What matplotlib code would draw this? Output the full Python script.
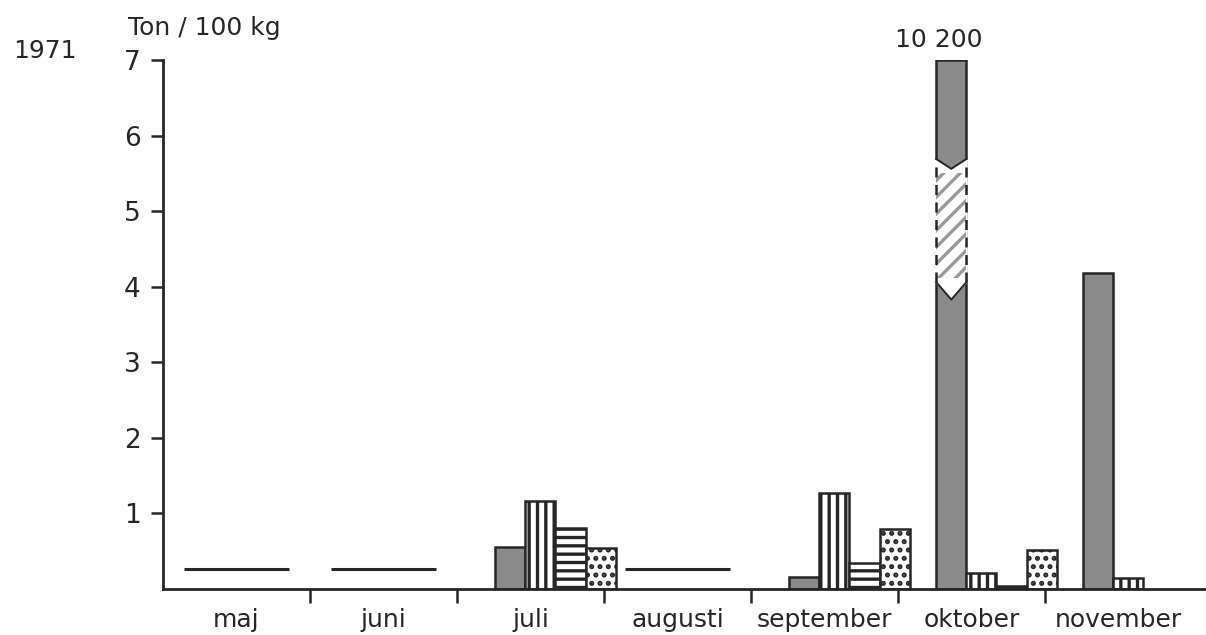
import numpy as np
import matplotlib
matplotlib.use("Agg")
import matplotlib.pyplot as plt
from matplotlib.patches import Polygon

# ---------------- data ----------------
months = ["maj", "juni", "juli", "augusti", "september", "oktober", "november"]
year_label = "1971"
unit_label = "Ton / 100 kg"
series_a = [np.nan, np.nan, 0.55, np.nan, 0.16, 102.0, 4.18]   # grey stipple
series_b = [np.nan, np.nan, 1.17, np.nan, 1.27, 0.21, 0.15]    # vertical stripes
series_c = [np.nan, np.nan, 0.81, np.nan, 0.35, 0.04, np.nan]  # horizontal stripes
series_d = [np.nan, np.nan, 0.54, np.nan, 0.79, 0.52, np.nan]  # dots
no_data_level = [0.27, 0.27, np.nan, 0.27, np.nan, np.nan, np.nan]
off_scale_label = "10 200"
yticks = [1, 2, 3, 4, 5, 6, 7]

# ---------------- style ----------------
plt.rcParams["font.family"] = ["DejaVu Sans"]
plt.rcParams["hatch.linewidth"] = 2.4
INK = "#262626"
W, H = 1206, 635
fig = plt.figure(figsize=(W / 100, H / 100), dpi=100)
ax = fig.add_axes([163 / W, 46 / H, (W - 163) / W, 529 / H])
month_px = 147.0
ymax = 7
ax.set_xlim(0, (W - 163) / month_px)
ax.set_ylim(0, ymax)

for s in ["top", "right"]:
    ax.spines[s].set_visible(False)
for s in ["left", "bottom"]:
    ax.spines[s].set_linewidth(2.0)
    ax.spines[s].set_color(INK)

ax.set_yticks(yticks)
ax.set_yticklabels([str(t) for t in yticks])
ax.tick_params(axis="y", length=9, width=1.8, pad=7, labelsize=19, colors=INK)

n = len(months)
ax.set_xticks(np.arange(1, n))
ax.set_xticklabels([])
ax.set_xticks(np.arange(n) + 0.5, minor=True)
ax.set_xticklabels(months, minor=True)
ax.tick_params(axis="x", which="major", length=10, width=1.8, colors=INK)
ax.tick_params(axis="x", which="minor", length=0, pad=14, labelsize=18, colors=INK)

off, bw = 0.26, 0.205
idx = np.arange(n)
styles = [
    dict(facecolor="#8a8a8a", hatch=None),
    dict(facecolor="white", hatch="||"),
    dict(facecolor="white", hatch="--"),
    dict(facecolor="white", hatch=".."),
]
all_series = [series_a, series_b, series_c, series_d]
for j, (vals, st) in enumerate(zip(all_series, styles)):
    v = np.minimum(np.asarray(vals, dtype=float), ymax)
    ax.bar(idx + off + j * bw, v, width=bw, align="edge",
           facecolor=st["facecolor"], hatch=st["hatch"],
           edgecolor=INK, linewidth=1.8, zorder=2)

# "no catch" dashes
for i, lvl in enumerate(no_data_level):
    if not np.isnan(lvl):
        ax.hlines(lvl, i + 0.14, i + 0.86, color=INK, linewidth=2.2, zorder=2)

# scale break on the off-scale bar
ib = int(np.nanargmax(series_a))
L = ib + off
R = L + bw
C = (L + R) / 2
hi_edge, hi_tip, lo_edge, lo_tip = 5.69, 5.56, 4.06, 3.83
gap = Polygon([(L - 0.01, hi_edge), (C, hi_tip), (R + 0.01, hi_edge),
               (R + 0.01, lo_edge), (C, lo_tip), (L - 0.01, lo_edge)],
              closed=True, facecolor="white", edgecolor="none", zorder=3)
ax.add_patch(gap)
ax.add_patch(Polygon([(L, hi_tip - 0.05), (R, hi_tip - 0.05), (R, lo_edge + 0.05), (L, lo_edge + 0.05)],
                     closed=True, facecolor="none", edgecolor="#9a9a9a", hatch="//",
                     linewidth=0, zorder=3.5))
ax.vlines([L, R], lo_edge, hi_edge, colors=INK, linestyles=(0, (4, 3)), linewidth=1.8, zorder=4)
ax.plot([L, C, R], [hi_edge, hi_tip, hi_edge], color=INK, linewidth=1.4, zorder=4)
ax.plot([L, C, R], [lo_edge, lo_tip, lo_edge], color=INK, linewidth=1.4, zorder=4)
ax.text(L + 0.02, ymax + 0.1, off_scale_label, ha="center", va="bottom",
        fontsize=18, color=INK, clip_on=False)

fig.text(128 / W, 1 - 35 / H, unit_label, ha="left", va="baseline", fontsize=18, color=INK)
fig.text(13 / W, 1 - 58 / H, year_label, ha="left", va="baseline", fontsize=18, color=INK)

fig.savefig("out.png", dpi=100, facecolor="white")
